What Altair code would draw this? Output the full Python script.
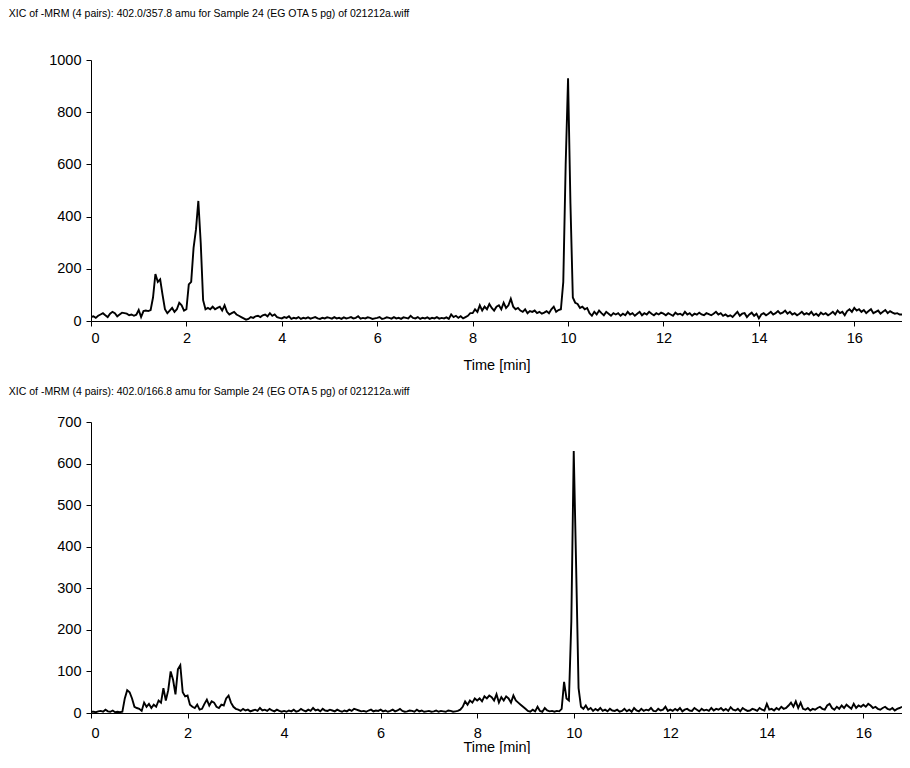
import altair as alt
import pandas as pd

STEP = 0.05  # sampling interval of the chromatogram (min)

TITLE_1 = "XIC of -MRM (4 pairs): 402.0/357.8 amu for Sample 24 (EG OTA 5 pg) of 021212a.wiff"
TITLE_2 = "XIC of -MRM (4 pairs): 402.0/166.8 amu for Sample 24 (EG OTA 5 pg) of 021212a.wiff"

X_TICKS = [0, 2, 4, 6, 8, 10, 12, 14, 16]
Y_TICKS_1 = [0, 200, 400, 600, 800, 1000]
Y_TICKS_2 = [0, 100, 200, 300, 400, 500, 600, 700]

# Trace 1: 402.0/357.8, 0.00 .. 17.00 min, one row per minute
TRACE_1 = [
    15, 18, 12, 20, 25, 30, 22, 15, 28, 35, 30, 18, 25, 32, 30, 28, 22, 25, 20, 24,
    42, 15, 38, 40, 38, 42, 90, 180, 150, 160, 100, 45, 30, 40, 50, 35, 45, 70, 60, 40,
    45, 140, 150, 280, 350, 460, 300, 80, 45, 50, 45, 55, 45, 50, 55, 40, 60, 35, 25, 30,
    35, 25, 20, 15, 10, 5, 8, 15, 12, 18, 20, 15, 22, 25, 18, 30, 20, 25, 15, 12,
    10, 15, 12, 18, 8, 12, 10, 15, 8, 12, 10, 14, 9, 12, 15, 10, 8, 12, 10, 14,
    12, 9, 15, 10, 12, 8, 14, 10, 12, 15, 10, 12, 18, 9, 12, 10, 14, 12, 8, 10,
    12, 15, 8, 10, 14, 12, 9, 15, 10, 12, 8, 14, 12, 10, 20, 12, 10, 15, 8, 12,
    10, 14, 8, 12, 10, 15, 9, 12, 10, 14, 8, 25, 15, 20, 12, 18, 10, 15, 20, 30,
    30, 45, 35, 60, 40, 55, 45, 65, 50, 40, 55, 60, 45, 70, 50, 60, 85, 55, 45, 50,
    40, 35, 45, 30, 38, 35, 40, 30, 35, 28, 32, 38, 30, 45, 55, 35, 42, 45, 150, 600,
    930, 450, 90, 70, 65, 50, 55, 45, 50, 30, 20, 35, 25, 40, 30, 22, 35, 28, 20, 30,
    25, 30, 20, 28, 22, 35, 25, 30, 20, 28, 35, 22, 30, 25, 35, 28, 22, 30, 25, 32,
    28, 22, 30, 25, 20, 32, 25, 28, 22, 35, 25, 30, 20, 28, 24, 32, 25, 22, 30, 26,
    22, 28, 35, 25, 30, 20, 25, 18, 22, 15, 25, 35, 20, 28, 30, 15, 25, 32, 20, 28,
    10, 25, 30, 22, 28, 35, 25, 30, 38, 28, 32, 40, 28, 35, 25, 30, 22, 28, 35, 25,
    30, 25, 35, 22, 28, 20, 32, 25, 30, 22, 28, 35, 25, 40, 30, 35, 22, 38, 45, 35,
    50, 40, 45, 35, 42, 30, 38, 45, 30, 35, 40, 28, 35, 42, 30, 38, 32, 28, 30, 25,
    25,
]

# Trace 2: 402.0/166.8, 0.00 .. 16.80 min, one row per minute
TRACE_2 = [
    3, 3, 2, 4, 5, 3, 8, 4, 3, 6, 2, 3, 2, 3, 35, 55, 50, 35, 15, 12,
    10, 5, 25, 15, 22, 12, 20, 15, 30, 25, 60, 30, 55, 100, 80, 45, 105, 115, 50, 40,
    42, 20, 15, 12, 20, 8, 10, 22, 32, 18, 28, 25, 15, 12, 20, 18, 35, 42, 25, 15,
    10, 8, 5, 10, 6, 8, 4, 6, 8, 5, 12, 6, 8, 5, 10, 6, 4, 8, 5, 3,
    5, 3, 6, 4, 8, 3, 5, 10, 6, 4, 8, 5, 12, 6, 8, 4, 10, 6, 5, 8,
    6, 4, 8, 5, 3, 6, 4, 8, 5, 10, 8, 6, 4, 5, 3, 6, 8, 4, 6, 5,
    8, 4, 6, 3, 5, 8, 4, 6, 10, 5, 3, 4, 6, 5, 3, 8, 4, 6, 3, 4,
    5, 3, 4, 6, 3, 5, 4, 3, 6, 5, 3, 4, 5, 8, 15, 28, 20, 30, 25, 35,
    30, 35, 28, 40, 35, 42, 38, 30, 45, 25, 38, 30, 40, 35, 25, 42, 30, 25, 20, 15,
    10, 5, 3, 8, 4, 15, 5, 3, 12, 6, 4, 5, 3, 5, 4, 10, 75, 35, 30, 220,
    630, 350, 60, 15, 10, 18, 8, 12, 5, 10, 6, 12, 5, 8, 4, 10, 6, 5, 8, 3,
    5, 10, 4, 8, 3, 12, 6, 4, 10, 5, 8, 6, 12, 5, 4, 10, 6, 8, 15, 5,
    8, 5, 10, 6, 12, 4, 8, 10, 6, 5, 12, 8, 4, 10, 6, 8, 5, 12, 6, 10,
    8, 12, 6, 10, 5, 14, 8, 6, 10, 4, 12, 8, 5, 6, 10, 8, 5, 12, 8, 6,
    22, 8, 10, 6, 12, 8, 15, 10, 12, 18, 25, 15, 28, 12, 25, 10, 8, 12, 6, 10,
    8, 12, 15, 10, 8, 18, 22, 12, 8, 15, 10, 18, 12, 20, 15, 10, 22, 12, 18, 15,
    20, 15, 22, 18, 12, 15, 10, 8, 12, 15, 10, 8, 12, 6, 10, 12, 15,
]

X_MAX_1 = 17.0
X_MAX_2 = 16.8

FONT = "Liberation Sans"


def frame(values):
    return pd.DataFrame({
        "t": [round(i * STEP, 2) for i in range(len(values))],
        "v": values,
    })


def panel(values, title, xmax, ymax, yticks, height, dx, offset, lpad, tpad):
    return alt.Chart(frame(values)).mark_line(
        color="black", strokeWidth=1.9, clip=True
    ).encode(
        x=alt.X("t:Q", title="Time [min]",
                scale=alt.Scale(domain=[0, xmax], nice=False, zero=False),
                axis=alt.Axis(values=X_TICKS, format="d",
                              labelPadding=lpad, titlePadding=tpad)),
        y=alt.Y("v:Q", title=None,
                scale=alt.Scale(domain=[0, ymax], nice=False),
                axis=alt.Axis(values=yticks, format="d")),
    ).properties(
        width=811, height=height,
        title=alt.TitleParams(title, anchor="start", dx=dx, offset=offset,
                              font=FONT, fontSize=10.5, fontWeight="normal",
                              color="black"),
    )


top = panel(TRACE_1, TITLE_1, X_MAX_1, 1000, Y_TICKS_1, 261, -40, 33, 5, 14)
bottom = panel(TRACE_2, TITLE_2, X_MAX_2, 700, Y_TICKS_2, 291, -48, 17, 8, 1)

chart = alt.vconcat(top, bottom, spacing=14).configure(
    padding={"left": 0, "top": 0, "right": 0, "bottom": 0}
).configure_view(stroke=None).configure_axis(
    grid=False, domainColor="black", tickColor="black", labelColor="black",
    titleColor="black", labelFont=FONT, titleFont=FONT, labelFontSize=14.5,
    titleFontSize=14.5, titleFontWeight="normal", tickSize=5, domainWidth=1,
    tickWidth=1,
).configure_axisY(
    labelPadding=5
)

chart.save("out.html", embed_options={"renderer": "svg", "actions": False})
